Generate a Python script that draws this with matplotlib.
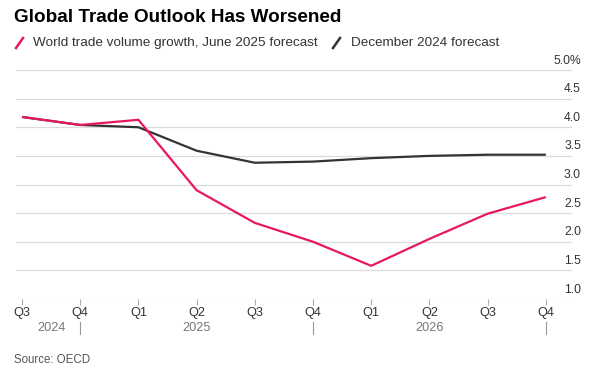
import numpy as np
import matplotlib
matplotlib.use('Agg')
import matplotlib.pyplot as plt
from matplotlib.lines import Line2D
import matplotlib.transforms as mtransforms

plt.rcParams['font.family'] = ['Liberation Sans', 'DejaVu Sans']

quarters = ['Q3', 'Q4', 'Q1', 'Q2', 'Q3', 'Q4', 'Q1', 'Q2', 'Q3', 'Q4']
years = ['2024', '2025', '2026']
year_centers = [0.5, 3, 7]
year_breaks = [1, 5, 9]
june_2025 = [4.18, 4.04, 4.13, 2.90, 2.33, 2.00, 1.58, 2.05, 2.49, 2.78]
dec_2024 = [4.18, 4.04, 4.00, 3.59, 3.38, 3.40, 3.46, 3.50, 3.52, 3.52]
y_ticks = [1.0, 1.5, 2.0, 2.5, 3.0, 3.5, 4.0, 4.5, 5.0]

red = '#e8195a'
dark = '#333333'

fig = plt.figure(figsize=(6.02, 3.87), dpi=100)
ax = fig.add_axes([16 / 602, 88 / 387, 556 / 602, 229 / 387])

x = np.arange(len(quarters))
ax.plot(x, dec_2024, color=dark, lw=1.6, solid_capstyle='butt', zorder=3)
ax.plot(x, june_2025, color=red, lw=1.6, solid_capstyle='butt', zorder=4)

ax.set_xlim(-0.103, 9.45)
ax.set_ylim(1.0, 5.0)
for s in ax.spines.values():
    s.set_visible(False)
for yv in y_ticks:
    ax.axhline(yv, color='#dcdcdc', lw=0.9, zorder=1)
ax.set_yticks([])

# y labels above gridlines on the right
trans = mtransforms.blended_transform_factory(fig.transFigure, ax.transData)
for yv in y_ticks:
    lab = f'{yv:.1f}%' if yv == 5.0 else f'{yv:.1f}'
    ax.text(581 / 602, yv + 0.06, lab, transform=trans, ha='right', va='bottom',
            fontsize=8.7, color='#333333')

ax.set_xticks(x)
ax.set_xticklabels(quarters, fontsize=9.2, color='#333333')
ax.tick_params(axis='x', length=4, width=0.8, color='#aaaaaa', pad=2)

# year labels
ytrans = mtransforms.blended_transform_factory(ax.transData, fig.transFigure)
for c, yr in zip(year_centers, years):
    ax.text(c, 1 - 328 / 387, yr, transform=ytrans, ha='center', va='center',
            fontsize=9.2, color='#777777')
for b in year_breaks:
    ax.add_line(Line2D([b, b], [1 - 322 / 387, 1 - 334 / 387], transform=ytrans,
                       color='#999999', lw=0.8, clip_on=False))

fig.text(14 / 602, 1 - 18 / 387, 'Global Trade Outlook Has Worsened', fontsize=13.6,
         fontweight='bold', ha='left', va='center', color='#000000')

# legend
fig.add_artist(Line2D([16 / 602, 23 / 602], [1 - 48 / 387, 1 - 38 / 387], color=red, lw=1.8))
fig.text(33 / 602, 1 - 43 / 387, 'World trade volume growth, June 2025 forecast',
         fontsize=9.7, ha='left', va='center', color='#333333')
fig.add_artist(Line2D([333 / 602, 340 / 602], [1 - 48 / 387, 1 - 38 / 387], color=dark, lw=1.8))
fig.text(351 / 602, 1 - 43 / 387, 'December 2024 forecast',
         fontsize=9.7, ha='left', va='center', color='#333333')

fig.text(14 / 602, 1 - 360 / 387, 'Source: OECD', fontsize=8.3, ha='left', va='center',
         color='#555555')

fig.savefig('out.png', dpi=100)
